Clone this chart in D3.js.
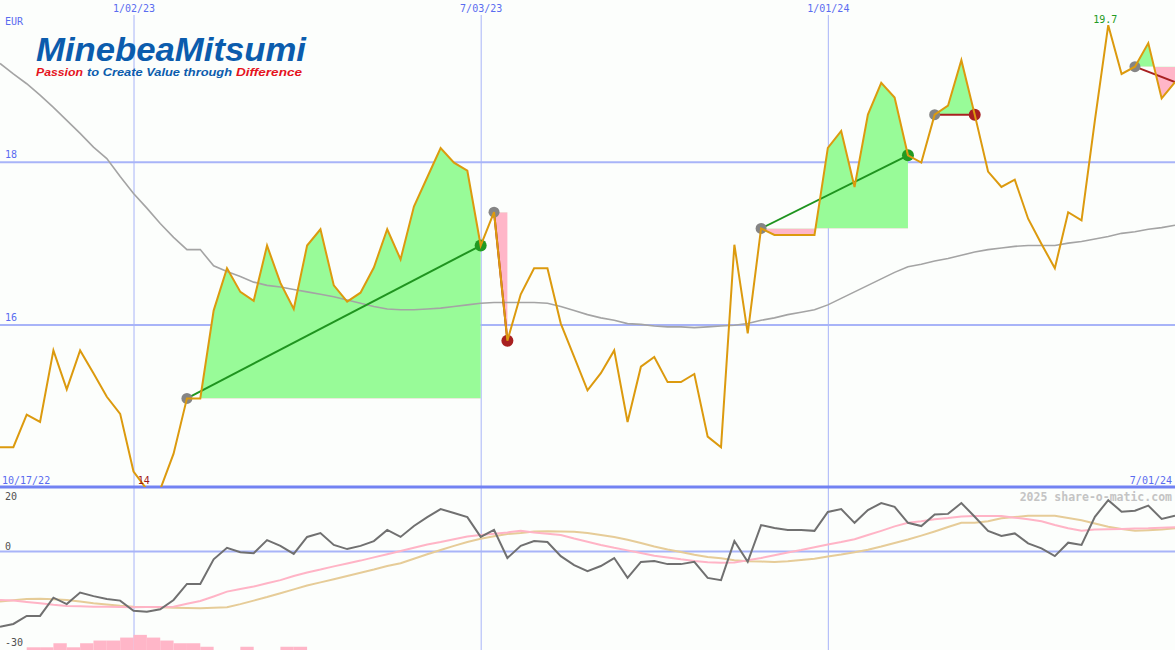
<!DOCTYPE html>
<meta charset="utf-8">

<!-- Load d3.js -->
<script src="https://d3js.org/d3.v7.min.js"></script>

<style>
  body { margin: 0; background: #fcfefc; }
  svg { display: block; }
</style>

<!-- Create a div where the graph will take place -->
<div id="my_dataviz"></div>

<script>

// weekly closes in EUR, first week starts 2022-10-24
var firstWeek = new Date(2022, 9, 24)
var lastDay = new Date(2024, 6, 1)

var price = [14.49,14.49,14.89,14.80,15.68,15.20,15.68,15.40,15.11,14.90,
  14.19,13.97,13.97,14.41,15.09,15.09,16.17,16.69,16.40,16.29,
  16.97,16.51,16.19,16.97,17.17,16.48,16.28,16.39,16.70,17.17,
  16.80,17.45,17.81,18.17,17.99,17.89,16.97,17.38,15.80,16.37,
  16.69,16.69,16.01,15.60,15.19,15.40,15.68,14.80,15.48,15.60,
  15.29,15.29,15.39,14.62,14.49,16.98,15.89,17.18,17.10,17.10,
  17.10,17.10,18.17,18.38,17.69,18.58,18.97,18.79,18.08,17.99,
  18.58,18.69,19.25,18.58,17.88,17.69,17.78,17.30,16.99,16.69,
  17.38,17.28,18.51,19.68,19.08,19.17,19.46,18.78,18.98]

// long moving average (grey line)
var avgLong = [19.21,19.08,18.96,18.82,18.67,18.51,18.35,18.18,18.04,17.82,
  17.61,17.43,17.24,17.07,16.92,16.92,16.72,16.65,16.59,16.52,
  16.48,16.46,16.43,16.40,16.37,16.34,16.30,16.26,16.22,16.19,
  16.18,16.18,16.19,16.20,16.22,16.24,16.26,16.27,16.27,16.27,
  16.27,16.26,16.22,16.17,16.12,16.08,16.05,16.01,16.00,15.98,
  15.97,15.97,15.96,15.97,15.98,15.99,16.01,16.05,16.08,16.12,
  16.15,16.18,16.24,16.32,16.40,16.48,16.56,16.64,16.71,16.74,
  16.78,16.81,16.85,16.89,16.92,16.94,16.96,16.97,16.97,16.97,
  17.00,17.02,17.05,17.08,17.12,17.14,17.17,17.19,17.22]

// lower panel: momentum and its two averages
var momentum = [-23.7,-22.8,-20.3,-20.3,-14.6,-16.6,-13.0,-14.1,-15.0,-15.5,
  -18.7,-19.0,-18.2,-15.3,-10.3,-10.3,-2.6,1.0,-0.4,-0.7,
  3.4,1.6,-0.9,4.4,5.6,1.9,0.6,1.6,3.1,6.6,
  4.4,7.8,10.6,13.1,11.9,10.6,4.4,6.6,-2.2,1.6,
  3.1,2.8,-1.6,-4.4,-6.3,-4.7,-2.2,-8.4,-3.4,-3.1,
  -4.1,-4.1,-3.4,-8.4,-9.1,3.1,-3.4,8.1,7.2,6.6,
  6.6,6.3,12.2,13.1,8.8,12.8,15.0,13.8,8.8,7.8,
  11.4,11.6,15.0,10.7,6.3,4.7,5.5,2.4,0.8,-1.6,
  2.6,1.9,10.7,15.9,12.3,12.6,14.2,10.0,11.0]

var momFast = [-15.3,-15.5,-15.9,-16.3,-16.8,-17.2,-17.3,-17.4,-17.4,-17.5,
  -17.6,-17.5,-17.5,-17.4,-16.5,-15.6,-14.2,-12.7,-11.9,-11.1,
  -10.1,-9.1,-7.8,-6.7,-5.8,-4.8,-3.9,-3.0,-2.0,-1.0,
  0.0,1.0,2.0,2.8,3.7,4.5,5.0,5.4,5.8,6.3,
  5.8,5.4,5.0,3.9,2.9,1.9,1.0,0.2,-0.6,-1.5,
  -2.0,-2.6,-3.1,-3.5,-3.7,-3.6,-2.9,-2.2,-1.3,-0.5,
  0.3,1.2,2.0,2.8,3.7,5.0,6.3,7.7,8.8,9.3,
  9.9,10.3,10.8,10.9,10.9,10.9,10.4,9.9,9.3,8.1,
  7.1,6.3,6.7,6.8,6.9,7.0,7.1,7.3,7.4]

var momSlow = [-15.8,-15.4,-15.0,-14.9,-15.1,-15.3,-15.8,-16.3,-16.7,-17.1,
  -17.4,-17.5,-17.6,-17.7,-17.8,-17.9,-17.7,-17.6,-16.6,-15.5,
  -14.4,-13.2,-12.0,-10.8,-9.8,-8.8,-7.8,-6.8,-5.8,-4.7,
  -3.8,-2.4,-1.0,0.3,1.6,2.8,3.8,4.6,5.3,5.6,
  6.1,6.2,6.1,6.0,5.6,5.0,4.4,3.5,2.5,1.4,
  0.5,-0.3,-1.2,-1.9,-2.3,-2.9,-3.2,-3.3,-3.4,-3.2,
  -2.8,-2.4,-1.7,-1.1,-0.4,0.4,1.4,2.5,3.6,4.8,
  6.1,7.5,8.8,8.8,9.3,10.2,10.6,11.0,11.0,11.0,
  10.3,9.6,8.6,7.6,6.9,6.3,6.5,6.7,7.1]

// pink bars at the bottom (week index, size)
var barWeek = [2,3,4,5,6,7,8,9,10,11,12,13,14,15,18,21,22]
var barValue = [1,1,2.5,1,2.5,3.5,3.5,4.6,5.6,4.6,3.5,2.5,2.5,1.2,1.2,1.2,1.2]

// trades: buy week, sell week (last one still open)
var tradeIn = [14, 37, 57, 70, 85]
var tradeOut = [36, 38, 68, 73, 88]
var tradeOpen = [false, false, false, false, true]

var priceTicks = [18, 16]
var momTicks = [20, 0, -30]
var dateTicks = [new Date(2023, 0, 2), new Date(2023, 6, 3), new Date(2024, 0, 1)]
var dateLabels = ["1/02/23", "7/03/23", "1/01/24"]

var dates = price.map(function(d, i) { return d3.timeWeek.offset(firstWeek, i) })

var width = 1175, height = 650
var mainBottom = 487

var blue = "#5a6cf0", grid = "#a8b4f8"
var mono = "'DejaVu Sans Mono', monospace"

var svg = d3.select("#my_dataviz")
  .append("svg")
  .attr("width", width)
  .attr("height", height)
  .style("background", "#fcfefc")

// scales
var x = d3.scaleTime()
  .domain([firstWeek, lastDay])
  .range([0, width])

var y = d3.scaleLinear()
  .domain([14, 19.99])
  .range([mainBottom, 0])

var yMom = d3.scaleLinear()
  .domain([-30, 20])
  .range([647, mainBottom])

var yBar = d3.scaleLinear()
  .domain([0, 6])
  .range([height, height - 16.2])

var defs = svg.append("defs")
defs.append("clipPath").attr("id", "clipMain")
  .append("rect").attr("x", 0).attr("y", 0).attr("width", width).attr("height", mainBottom)
defs.append("clipPath").attr("id", "clipLow")
  .append("rect").attr("x", 0).attr("y", mainBottom + 1).attr("width", width).attr("height", height - mainBottom)

// vertical date grid (through both panels)
var xAxis = svg.append("g")
  .attr("transform", "translate(0,15)")
  .call(d3.axisBottom(x).tickValues(dateTicks).tickSize(height - 15)
    .tickFormat(function(d, i) { return dateLabels[i] }))
xAxis.select(".domain").remove()
xAxis.selectAll("line").attr("stroke", grid).attr("stroke-width", 1)
xAxis.selectAll("text")
  .attr("y", -3).attr("dy", 0)
  .attr("fill", blue)
  .style("font-family", mono).style("font-size", "10px")

// horizontal price grid
var yAxis = svg.append("g")
  .call(d3.axisRight(y).tickValues(priceTicks).tickSize(width).tickFormat(d3.format("d")))
yAxis.select(".domain").remove()
yAxis.selectAll("line").attr("stroke", grid).attr("stroke-width", 2)
yAxis.selectAll("text")
  .attr("x", 5).attr("dy", -4)
  .attr("text-anchor", "start")
  .attr("fill", blue)
  .style("font-family", mono).style("font-size", "10px")

// momentum zero line
var mAxis = svg.append("g")
  .call(d3.axisRight(yMom).tickValues([0]).tickSize(width).tickFormat(""))
mAxis.select(".domain").remove()
mAxis.selectAll("line").attr("stroke", grid).attr("stroke-width", 2)

svg.selectAll(".momLabel")
  .data(momTicks)
  .enter().append("text")
  .attr("x", 5)
  .attr("y", function(d) { return Math.max(yMom(d) - 1, 500) })
  .attr("fill", "#505050")
  .style("font-family", mono).style("font-size", "10px")
  .text(function(d) { return d })

// panel separator
svg.append("line")
  .attr("x1", 0).attr("x2", width)
  .attr("y1", y(14)).attr("y2", y(14))
  .attr("stroke", "#7282f2").attr("stroke-width", 3)

// logo
var logo = svg.append("g").style("font-family", "'Liberation Sans', Arial, sans-serif")
  .style("font-weight", "bold").style("font-style", "italic")
logo.append("text")
  .attr("x", 36).attr("y", 60.5)
  .attr("textLength", 270).attr("lengthAdjust", "spacingAndGlyphs")
  .style("font-size", "33px").attr("fill", "#0b5cad")
  .text("MinebeaMitsumi")

var tagParts = ["Passion", "to Create Value through", "Difference"]
var tagX = [36, 87, 236]
var tagLen = [47, 145, 66]
var tagColor = ["#e5141e", "#0b5cad", "#e5141e"]
logo.selectAll(".tag")
  .data(tagParts)
  .enter().append("text")
  .attr("x", function(d, i) { return tagX[i] })
  .attr("y", 75.5)
  .attr("textLength", function(d, i) { return tagLen[i] })
  .attr("lengthAdjust", "spacingAndGlyphs")
  .attr("fill", function(d, i) { return tagColor[i] })
  .style("font-size", "10.5px")
  .text(function(d) { return d })

svg.append("text")
  .attr("x", 5).attr("y", 25)
  .attr("fill", blue)
  .style("font-family", mono).style("font-size", "10px")
  .text("EUR")

var main = svg.append("g").attr("clip-path", "url(#clipMain)")

// trade profit / loss areas
tradeIn.forEach(function(a, k) {
  var b = tradeOut[k]
  var level = y(price[a])
  var idx = d3.range(a, b + 1)
  var area = d3.area()
    .x(function(i) { return x(dates[i]) })
    .y0(level)
    .y1(function(i) { return y(price[i]) })

  defs.append("clipPath").attr("id", "up" + k)
    .append("rect").attr("x", 0).attr("y", 0).attr("width", width).attr("height", level)
  defs.append("clipPath").attr("id", "down" + k)
    .append("rect").attr("x", 0).attr("y", level).attr("width", width).attr("height", mainBottom - level)

  main.append("path").datum(idx).attr("d", area)
    .attr("fill", "#98fb98").attr("clip-path", "url(#up" + k + ")")
  main.append("path").datum(idx).attr("d", area)
    .attr("fill", "#ffb6c8").attr("clip-path", "url(#down" + k + ")")
})

// long average
main.append("path")
  .datum(avgLong)
  .attr("fill", "none")
  .attr("stroke", "#a4a4a4")
  .attr("stroke-width", 1.6)
  .attr("d", d3.line()
    .x(function(d, i) { return x(dates[i]) })
    .y(function(d) { return y(d) }))

// trade lines
tradeIn.forEach(function(a, k) {
  var b = tradeOut[k]
  var win = price[b] > price[a]
  main.append("line")
    .attr("x1", x(dates[a])).attr("y1", y(price[a]))
    .attr("x2", x(dates[b])).attr("y2", y(price[b]))
    .attr("stroke", win ? "#1f941f" : "#a82020")
    .attr("stroke-width", 2)
})

// entry / exit markers
tradeIn.forEach(function(a, k) {
  var b = tradeOut[k]
  main.append("circle")
    .attr("cx", x(dates[a])).attr("cy", y(price[a])).attr("r", 5.5)
    .attr("fill", "#858585")
  if (!tradeOpen[k]) {
    main.append("circle")
      .attr("cx", x(dates[b])).attr("cy", y(price[b])).attr("r", 6)
      .attr("fill", price[b] > price[a] ? "#229a22" : "#a82020")
  }
})

// price line
main.append("path")
  .datum(price)
  .attr("fill", "none")
  .attr("stroke", "#dc9a0e")
  .attr("stroke-width", 2)
  .attr("stroke-linejoin", "miter")
  .attr("d", d3.line()
    .x(function(d, i) { return x(dates[i]) })
    .y(function(d) { return y(d) }))

// min / max labels
var iMin = d3.minIndex(price), iMax = d3.maxIndex(price)
svg.append("text")
  .attr("x", x(dates[iMin]) - 3).attr("y", 484)
  .attr("text-anchor", "middle")
  .attr("fill", "#a01818")
  .style("font-family", mono).style("font-size", "10px")
  .text(Math.round(price[iMin]))
svg.append("text")
  .attr("x", x(dates[iMax]) - 3).attr("y", y(price[iMax]) - 2)
  .attr("text-anchor", "middle")
  .attr("fill", "#229a22")
  .style("font-family", mono).style("font-size", "10px")
  .text(d3.format(".1f")(price[iMax]))

// date range labels
svg.append("text")
  .attr("x", 2).attr("y", 484)
  .attr("fill", blue)
  .style("font-family", mono).style("font-size", "10px")
  .text("10/17/22")
svg.append("text")
  .attr("x", 1172).attr("y", 484)
  .attr("text-anchor", "end")
  .attr("fill", blue)
  .style("font-family", mono).style("font-size", "10px")
  .text("7/01/24")

// lower panel
var low = svg.append("g").attr("clip-path", "url(#clipLow)")

low.selectAll("rect")
  .data(barWeek)
  .enter().append("rect")
  .attr("x", function(d) { return x(dates[d]) })
  .attr("width", function(d) { return x(dates[d + 1]) - x(dates[d]) })
  .attr("y", function(d, i) { return yBar(barValue[i]) })
  .attr("height", function(d, i) { return height - yBar(barValue[i]) })
  .attr("fill", "#ffb6c8")

var momLine = d3.line()
  .x(function(d, i) { return x(dates[i]) })
  .y(function(d) { return yMom(d) })

low.append("path").datum(momSlow)
  .attr("fill", "none").attr("stroke", "#e6cc98").attr("stroke-width", 2)
  .attr("d", momLine)
low.append("path").datum(momFast)
  .attr("fill", "none").attr("stroke", "#ffb4c6").attr("stroke-width", 2)
  .attr("d", momLine)
low.append("path").datum(momentum)
  .attr("fill", "none").attr("stroke", "#707070").attr("stroke-width", 2)
  .attr("d", momLine)

svg.append("text")
  .attr("x", 1172).attr("y", 501)
  .attr("text-anchor", "end")
  .attr("fill", "#c4c4c4")
  .style("font-family", mono).style("font-size", "11.5px").style("font-weight", "bold")
  .text("2025 share-o-matic.com")

</script>
